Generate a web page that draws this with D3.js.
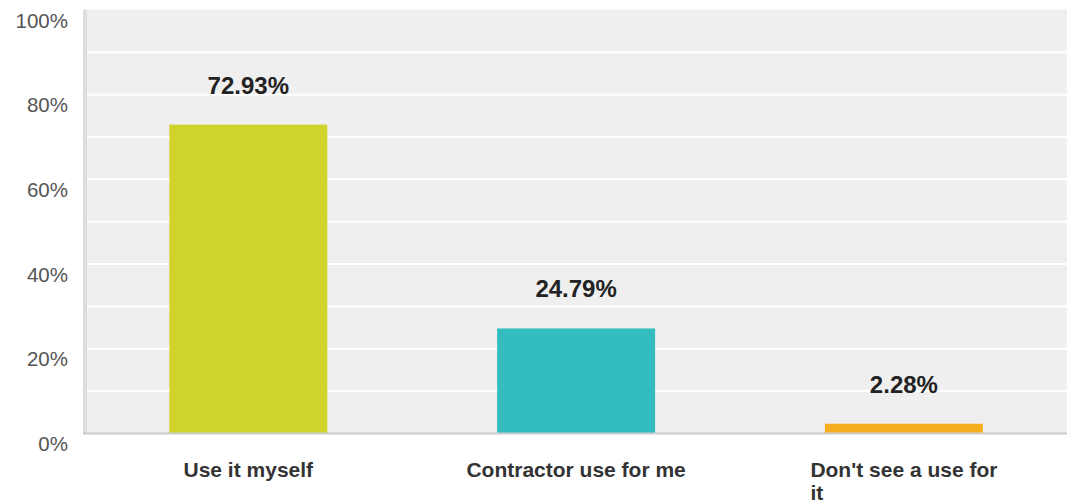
<!DOCTYPE html>
<html>
<head>
<meta charset="utf-8">
<script src="https://cdn.jsdelivr.net/npm/d3@7/dist/d3.min.js"></script>
<style>
  html, body { margin: 0; padding: 0; background: #ffffff; }
  svg { display: block; font-family: "Liberation Sans", Arial, sans-serif; }
</style>
</head>
<body>
<svg id="chart" width="1071" height="503"></svg>
<script>
// Survey answers and their shares (percent)
const categories = ["Use it myself", "Contractor use for me", "Don't see a use for it"];
const values = [72.93, 24.79, 2.28];
const barColors = ["#d0d32a", "#33bdbe", "#f6ae1e"];
const yTicks = [0, 20, 40, 60, 80, 100];
const gridTicks = [10, 20, 30, 40, 50, 60, 70, 80, 90];

const svg = d3.select("#chart");
const plot = { left: 84.4, right: 1067.8, top: 10, bottom: 433.4 };

const x = d3.scaleBand()
  .domain(categories)
  .range([plot.left, plot.right])
  .padding(0);

const y = d3.scaleLinear()
  .domain([0, 100])
  .range([plot.bottom, plot.top]);

const barFrac = 0.482;
const barW = x.bandwidth() * barFrac;

// Plot background
svg.append("rect")
  .attr("x", 87).attr("y", y(100) - 0.5)
  .attr("width", 1067 - 87).attr("height", y(0) - y(100) + 0.5)
  .attr("fill", "#efefef");

// Left edge strip
svg.append("rect")
  .attr("x", 83).attr("y", y(100) - 0.5)
  .attr("width", 4).attr("height", y(0) - y(100) + 1)
  .attr("fill", "#dddddd");

// Horizontal grid lines
svg.append("g")
  .selectAll("line")
  .data(gridTicks)
  .join("line")
  .attr("x1", 87).attr("x2", 1067)
  .attr("y1", d => y(d)).attr("y2", d => y(d))
  .attr("stroke", "#ffffff")
  .attr("stroke-width", 2);

// Bars
svg.append("g")
  .selectAll("rect")
  .data(values)
  .join("rect")
  .attr("x", (d, i) => x(categories[i]) + (x.bandwidth() - barW) / 2)
  .attr("y", d => y(d))
  .attr("width", barW)
  .attr("height", d => y(0) - y(d))
  .attr("fill", (d, i) => barColors[i]);

// Baseline
svg.append("line")
  .attr("x1", 83).attr("x2", 1067)
  .attr("y1", y(0)).attr("y2", y(0))
  .attr("stroke", "#cccccc")
  .attr("stroke-width", 2);

// Y axis labels (set just below their grid lines)
const yAxis = d3.axisLeft(y)
  .tickValues(yTicks)
  .tickFormat(d => d + "%")
  .tickSize(0)
  .tickPadding(0);

const yg = svg.append("g")
  .attr("transform", "translate(68,0)")
  .call(yAxis);
yg.select(".domain").remove();
yg.selectAll("text")
  .attr("dy", null)
  .attr("y", 17)
  .attr("x", 0)
  .attr("fill", "#555555")
  .style("font-size", "20.5px")
  .style("font-family", "'Liberation Sans', Arial, sans-serif");

// Value labels above bars
svg.append("g")
  .selectAll("text")
  .data(values)
  .join("text")
  .attr("x", (d, i) => x(categories[i]) + x.bandwidth() / 2)
  .attr("y", d => y(d) - 31)
  .attr("text-anchor", "middle")
  .attr("fill", "#222222")
  .style("font-size", "24px")
  .style("font-weight", "bold")
  .text(d => d.toFixed(2) + "%");

// Category labels, wrapped at a maximum character count;
// lines left-aligned within a block centred under the bar
const maxChars = 21;
const catG = svg.append("g");
categories.forEach((c, i) => {
  const cx = x(c) + x.bandwidth() / 2;
  const t = catG.append("text")
    .attr("fill", "#333333")
    .style("font-size", "21px")
    .style("font-weight", "bold");
  const lines = [];
  let line = [];
  c.split(" ").forEach(w => {
    const test = line.concat([w]).join(" ");
    if (test.length > maxChars && line.length) {
      lines.push(line.join(" "));
      line = [w];
    } else {
      line.push(w);
    }
  });
  lines.push(line.join(" "));
  const widths = lines.map(l => {
    const tmp = t.append("tspan").text(l);
    const wv = tmp.node().getComputedTextLength();
    tmp.remove();
    return wv;
  });
  const blockW = d3.max(widths);
  const left = cx - blockW / 2;
  lines.forEach((l, k) => {
    t.append("tspan")
      .attr("x", left)
      .attr("y", 477 + k * 23)
      .text(l);
  });
});
</script>
</body>
</html>
